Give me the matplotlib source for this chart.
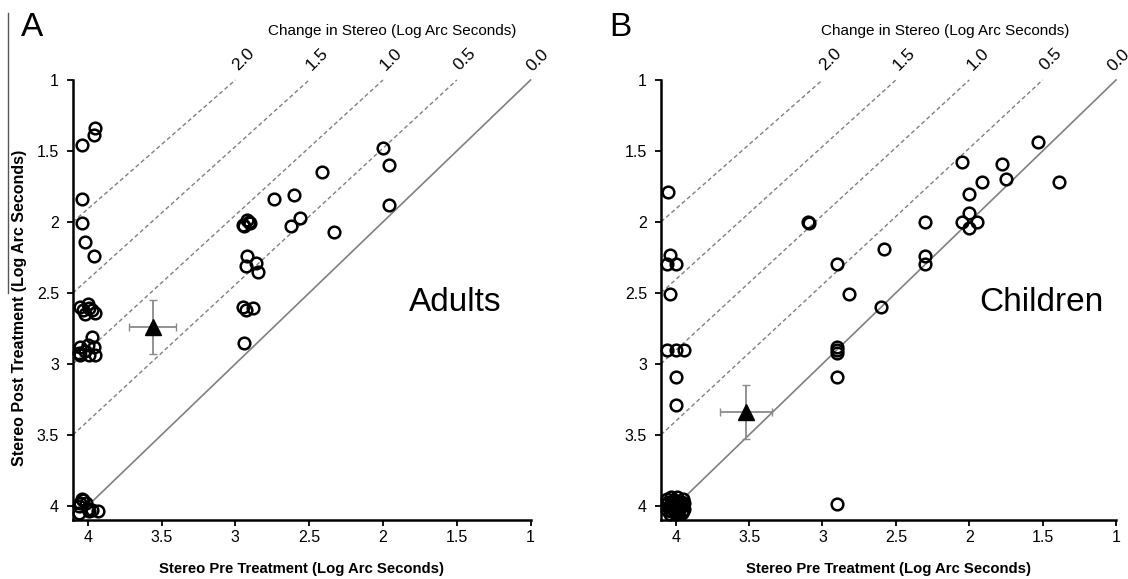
import matplotlib
matplotlib.use("Agg")
import matplotlib.pyplot as plt
from matplotlib.lines import Line2D
from matplotlib.ticker import FuncFormatter

plt.rcParams['font.family'] = ['Liberation Sans', 'DejaVu Sans']

# Panel A (adults): pre / post treatment stereo, log arc seconds
pre_a = [3.95, 3.96, 4.04, 4.04, 4.04, 4.02, 3.96,
         4.05, 4.03, 4.00, 3.97, 3.95, 4.02, 3.99,
         3.97,
         4.05, 4.00, 3.96, 4.05, 3.99, 3.95, 4.02, 4.06,
         4.04, 4.06, 4.01, 3.97, 3.93, 4.06, 4.03, 4.00, 4.05, 3.99,
         2.00, 1.96, 1.96, 2.41, 2.60, 2.74, 2.56, 2.62, 2.33,
         2.95, 2.92, 2.90, 2.94, 2.91,
         2.92, 2.93, 2.86, 2.85,
         2.95, 2.93, 2.88, 2.94]
post_a = [1.34, 1.39, 1.46, 1.84, 2.01, 2.14, 2.24,
          2.60, 2.62, 2.58, 2.62, 2.64, 2.65, 2.61,
          2.81,
          2.88, 2.87, 2.88, 2.94, 2.94, 2.94, 2.91, 2.92,
          3.95, 4.00, 3.98, 4.03, 4.04, 4.05, 3.96, 4.02, 3.98, 4.04,
          1.48, 1.60, 1.88, 1.65, 1.81, 1.84, 1.97, 2.03, 2.07,
          2.02, 1.99, 2.01, 2.03, 2.00,
          2.24, 2.31, 2.29, 2.35,
          2.60, 2.62, 2.61, 2.85]

# Panel B (children)
pre_b = [4.05, 3.10, 3.09, 4.04, 4.06, 4.00, 4.04, 2.90, 2.82,
         4.06, 4.00, 3.94, 2.90, 2.90, 2.90, 4.00, 4.00, 2.90, 2.90,
         2.60, 2.58, 2.30, 2.30, 2.30, 2.05, 2.00, 1.91, 1.78, 1.75,
         1.53, 1.39, 2.05, 2.00, 1.95, 2.00,
         4.06, 4.03, 3.99, 3.95, 4.06, 4.02, 3.98, 3.94,
         4.06, 4.02, 3.98, 3.94, 4.04, 4.00, 3.96, 4.00,
         4.05, 4.01, 3.97, 4.05, 4.01, 3.97, 4.03, 3.99, 3.95, 4.03, 3.99, 3.95,
         4.00, 4.00, 3.98, 4.02, 4.01, 3.99, 4.04, 3.96]
post_b = [1.79, 2.00, 2.01, 2.23, 2.30, 2.30, 2.51, 2.30, 2.51,
          2.90, 2.90, 2.90, 2.88, 2.90, 2.92, 3.09, 3.29, 3.09, 3.99,
          2.60, 2.19, 2.00, 2.24, 2.30, 1.58, 1.80, 1.72, 1.59, 1.70,
          1.44, 1.72, 2.00, 1.94, 2.00, 2.04,
          3.95, 3.94, 3.94, 3.95, 3.99, 3.98, 3.99, 3.98,
          4.03, 4.02, 4.03, 4.02, 4.06, 4.06, 4.05, 4.00,
          3.97, 3.96, 3.97, 4.01, 4.00, 4.01, 3.99, 3.97, 3.99, 4.04, 4.05, 4.04,
          3.97, 4.03, 4.00, 4.00, 3.98, 4.02, 4.00, 4.00]

# group means with error bars (x err, y err)
mean_a = (3.56, 2.74, 0.16, 0.19)
mean_b = (3.52, 3.34, 0.175, 0.19)

changes = [2.0, 1.5, 1.0, 0.5]
ticks = [4, 3.5, 3, 2.5, 2, 1.5, 1]
lo, hi = 4.1, 1.0

fig = plt.figure(figsize=(11.28, 5.79), dpi=100)
ax_a = fig.add_axes([0.0647, 0.1019, 0.4057, 0.760])
ax_b = fig.add_axes([0.586, 0.1019, 0.4034, 0.760])

fmt = FuncFormatter(lambda v, p: f'{v:g}')

panels = [(ax_a, pre_a, post_a, mean_a, 'Adults', 0.697, (5, 14)),
          (ax_b, pre_b, post_b, mean_b, 'Children', 0.624, (2, 14))]

for ax, pre, post, mean, name, head_x, zero_off in panels:
    ax.set_xlim(lo, hi)
    ax.set_ylim(lo, hi)

    # reference lines of equal change
    for c in changes:
        ax.plot([lo, 1 + c], [4 - c, hi], color='#808080', lw=1.0,
                ls=(0, (3, 2)), clip_on=False, zorder=1)
        ax.annotate(f'{c:.1f}', (1 + c, hi), xytext=(6, 15),
                    textcoords='offset points', rotation=45,
                    ha='center', va='center', fontsize=12.5,
                    annotation_clip=False)
    ax.plot([4, hi], [4, hi], color='#808080', lw=1.2, clip_on=False, zorder=1)
    ax.annotate('0.0', (hi, hi), xytext=zero_off, textcoords='offset points',
                rotation=45, ha='center', va='center', fontsize=12.5,
                annotation_clip=False)

    ax.plot(pre, post, 'o', ms=8.4, mfc='none', mec='black', mew=1.8,
            clip_on=False, zorder=3)
    ax.errorbar(mean[0], mean[1], xerr=mean[2], yerr=mean[3], fmt='^',
                color='black', ms=11, ecolor='#8a8a8a', elinewidth=1.3,
                capsize=3, capthick=1.0, zorder=4)

    ax.text(0.835, 0.495, name, transform=ax.transAxes, fontsize=24,
            ha='center', va='center')
    ax.text(head_x, 1.111, 'Change in Stereo (Log Arc Seconds)',
            transform=ax.transAxes, fontsize=11, ha='center', va='center')

    ax.set_xticks(ticks)
    ax.set_yticks(ticks)
    ax.xaxis.set_major_formatter(fmt)
    ax.yaxis.set_major_formatter(fmt)
    ax.tick_params(direction='out', length=4, width=1.3, labelsize=11.5,
                   colors='black')
    ax.tick_params(axis='y', pad=6)
    for side in ['top', 'right']:
        ax.spines[side].set_visible(False)
    for side in ['left', 'bottom']:
        ax.spines[side].set_linewidth(1.8)

    ax.set_xlabel('Stereo Pre Treatment (Log Arc Seconds)', fontsize=10.7,
                  fontweight='bold')
    ax.xaxis.set_label_coords(0.5, -0.095)

ax_a.set_ylabel('Stereo Post Treatment (Log Arc Seconds)', fontsize=11.5,
                fontweight='bold')
ax_a.yaxis.set_label_coords(-0.1, 0.482)

fig.text(0.0284, 0.953, 'A', fontsize=24, ha='center', va='center')
fig.text(0.550, 0.953, 'B', fontsize=24, ha='center', va='center')

# thin rule at the left page edge
fig.add_artist(Line2D([0.0071, 0.0071], [0.978, 0.494], color='#555555',
                      lw=1.0, transform=fig.transFigure))

fig.savefig('out.png', dpi=100)
